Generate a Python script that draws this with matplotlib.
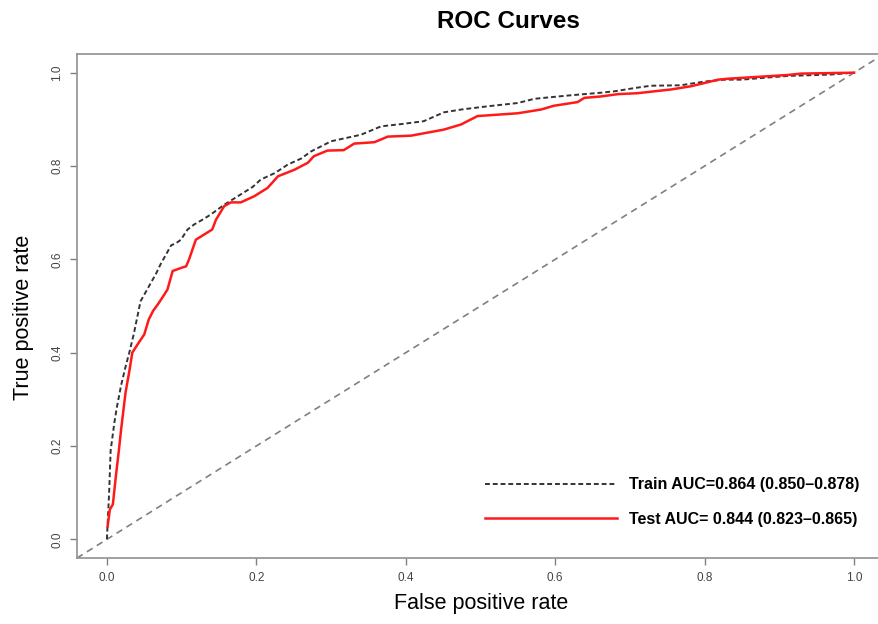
import matplotlib
matplotlib.use("Agg")
import matplotlib.pyplot as plt

plt.rcParams["font.family"] = ["Liberation Sans", "DejaVu Sans"]

# ROC points (false positive rate, true positive rate)
train_fpr = [0.000, 0.003, 0.005, 0.010, 0.013, 0.019, 0.025, 0.030, 0.036, 0.045,
             0.052, 0.059, 0.066, 0.072, 0.079, 0.086, 0.093, 0.099, 0.108, 0.117,
             0.128, 0.139, 0.157, 0.179, 0.195, 0.206, 0.225, 0.242, 0.260, 0.273,
             0.300, 0.320, 0.340, 0.367, 0.395, 0.424, 0.451, 0.474, 0.510, 0.550,
             0.572, 0.617, 0.661, 0.679, 0.706, 0.728, 0.768, 0.800, 0.826, 0.849,
             0.911, 0.969, 1.000]
train_tpr = [0.000, 0.100, 0.190, 0.250, 0.280, 0.330, 0.370, 0.400, 0.440, 0.510,
             0.530, 0.550, 0.570, 0.590, 0.610, 0.630, 0.635, 0.642, 0.664, 0.675,
             0.685, 0.696, 0.717, 0.739, 0.755, 0.771, 0.785, 0.803, 0.816, 0.831,
             0.853, 0.860, 0.867, 0.885, 0.890, 0.896, 0.915, 0.921, 0.928, 0.935,
             0.944, 0.951, 0.957, 0.960, 0.967, 0.972, 0.973, 0.981, 0.985, 0.985,
             0.993, 0.996, 1.000]

test_fpr = [0.001, 0.004, 0.008, 0.012, 0.016, 0.019, 0.025, 0.030, 0.034, 0.042,
            0.050, 0.056, 0.062, 0.068, 0.075, 0.081, 0.088, 0.100, 0.106, 0.110,
            0.119, 0.130, 0.141, 0.146, 0.157, 0.166, 0.179, 0.197, 0.215, 0.229,
            0.251, 0.269, 0.277, 0.295, 0.317, 0.331, 0.358, 0.376, 0.407, 0.451,
            0.474, 0.496, 0.550, 0.581, 0.598, 0.630, 0.639, 0.661, 0.684, 0.710,
            0.755, 0.782, 0.795, 0.818, 0.831, 0.911, 0.929, 1.000]
test_tpr = [0.028, 0.064, 0.075, 0.135, 0.190, 0.235, 0.315, 0.360, 0.400, 0.420,
            0.439, 0.471, 0.490, 0.503, 0.520, 0.535, 0.575, 0.582, 0.585, 0.600,
            0.642, 0.653, 0.664, 0.685, 0.714, 0.722, 0.722, 0.735, 0.753, 0.778,
            0.792, 0.807, 0.821, 0.833, 0.834, 0.848, 0.851, 0.863, 0.865, 0.878,
            0.889, 0.907, 0.913, 0.921, 0.929, 0.937, 0.946, 0.949, 0.954, 0.956,
            0.964, 0.971, 0.976, 0.985, 0.987, 0.995, 0.998, 1.000]

train_label = "Train AUC=0.864 (0.850\u20130.878)"
test_label = "Test AUC= 0.844 (0.823\u20130.865)"
ticks = [0.0, 0.2, 0.4, 0.6, 0.8, 1.0]

W, H = 879, 624
fig = plt.figure(figsize=(W / 100, H / 100), dpi=100)
# axes run past the right edge, as in the cropped reference
ax = fig.add_axes([77 / W, (H - 558) / H, 807 / W, 504 / H])

ax.plot([-0.04, 1.04], [-0.04, 1.04], color="#808080", lw=1.2, ls=(0, (4, 3)))
ax.plot(train_fpr, train_tpr, color="#333333", lw=1.4, ls=(0, (2.5, 1.5)), label=train_label)
ax.plot(test_fpr, test_tpr, color="#ff1a1a", lw=1.8, label=test_label)

ax.set_xlim(-0.04, 1.04)
ax.set_ylim(-0.04, 1.04)
ax.set_xticks(ticks)
ax.set_yticks(ticks)
ax.set_xticklabels([f"{t:.1f}" for t in ticks])
ax.set_yticklabels([f"{t:.1f}" for t in ticks], rotation=90, va="center")
ax.tick_params(length=5, width=1.0, color="#808080", labelcolor="#444444",
               labelsize=8.5, pad=5)

for s in ["left", "bottom", "top"]:
    ax.spines[s].set_color("#909090")
    ax.spines[s].set_linewidth(1.2)
ax.spines["right"].set_visible(False)

leg = ax.legend(loc="upper left", bbox_to_anchor=(0.507 * 747 / 807 + 29 / 807, 0.16),
                frameon=False, handlelength=8.3, handletextpad=0.75,
                labelspacing=1.2, borderpad=0, borderaxespad=0,
                prop={"weight": "bold", "size": 11.5})

fig.text(508 / W, 1 - 22 / H, "ROC Curves", ha="center", va="center",
         fontsize=17.5, fontweight="bold")
fig.text(481 / W, 1 - 603 / H, "False positive rate", ha="center", va="center",
         fontsize=15.5)
fig.text(24 / W, 1 - 317 / H, "True positive rate", ha="center", va="center",
         fontsize=15.5, rotation=90)

fig.savefig("out.png", dpi=100)
